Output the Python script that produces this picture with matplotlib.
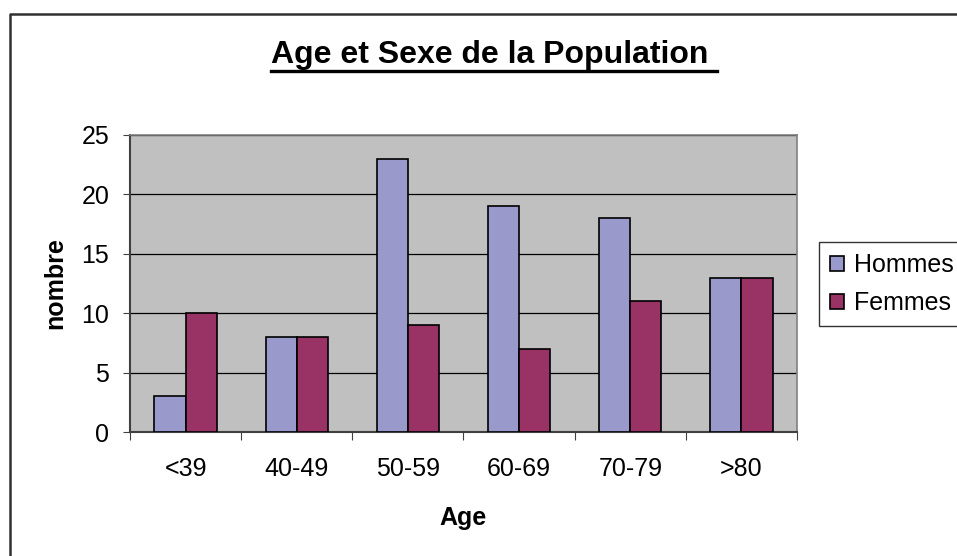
import matplotlib.pyplot as plt
import numpy as np
from matplotlib.lines import Line2D
from matplotlib.patches import Patch

plt.rcParams['font.family'] = ['Liberation Sans', 'DejaVu Sans']

# Données
categories = ['<39', '40-49', '50-59', '60-69', '70-79', '>80']
hommes = [3, 8, 23, 19, 18, 13]
femmes = [10, 8, 9, 7, 11, 13]

fig = plt.figure(figsize=(9.57, 5.56), dpi=100)
ax = fig.add_axes([130 / 957, 1 - 432 / 556, 667 / 957, 297 / 556])
ax.set_facecolor('#C0C0C0')

x = np.arange(len(categories))
w = 0.28
ax.bar(x - w / 2, hommes, w, color='#9999CC', edgecolor='black', linewidth=1.2, label='Hommes', zorder=3)
ax.bar(x + w / 2, femmes, w, color='#993366', edgecolor='black', linewidth=1.2, label='Femmes', zorder=3)

ax.set_xlim(-0.5, len(categories) - 0.5)
ax.set_ylim(0, 25)
ax.set_yticks(range(0, 26, 5))
ax.yaxis.grid(True, color='black', linewidth=0.9, zorder=0)

# ticks aux limites des catégories
ax.set_xticks(np.arange(-0.5, len(categories), 1))
ax.set_xticklabels([])
ax.set_xticks(x, minor=True)
ax.set_xticklabels(categories, minor=True, fontsize=18)
ax.tick_params(axis='x', which='minor', length=0, pad=18)
ax.tick_params(axis='x', which='major', length=6, color='#404040')
ax.tick_params(axis='y', labelsize=18, length=5, color='#404040', pad=10)

for s in ['left', 'bottom']:
    ax.spines[s].set_color('#404040')
    ax.spines[s].set_linewidth(1.5)
for s in ['top', 'right']:
    ax.spines[s].set_color('#808080')
    ax.spines[s].set_linewidth(1.2)

ax.set_ylabel('nombre', fontsize=18, fontweight='bold', labelpad=10)
ax.set_xlabel('Age', fontsize=18, fontweight='bold', labelpad=18)

# Titre souligné
title = fig.text(271 / 957, 1 - 63 / 556, 'Age et Sexe de la Population ', fontsize=23,
                 fontweight='bold', ha='left', va='baseline')
fig.canvas.draw()
bb = title.get_window_extent().transformed(fig.transFigure.inverted())
uy = 1 - 71 / 556
fig.add_artist(Line2D([bb.x0, bb.x1], [uy, uy], color='black', linewidth=2.4,
                      transform=fig.transFigure))

# Légende
handles = [Patch(facecolor='#9999CC', edgecolor='black', linewidth=1.2),
           Patch(facecolor='#993366', edgecolor='black', linewidth=1.2)]
leg = fig.legend(handles, ['Hommes', 'Femmes'], loc='upper left', bbox_to_anchor=(819 / 957, 1 - 242 / 556),
                 fontsize=18, frameon=True, fancybox=False, handlelength=0.55, handleheight=0.55,
                 handletextpad=0.4, borderpad=0.45, labelspacing=0.55, borderaxespad=0)
leg.get_frame().set_edgecolor('black')
leg.get_frame().set_linewidth(1.0)

# cadre du graphique
fig.add_artist(Line2D([10 / 957, 10 / 957, 1.0], [0, 1 - 14 / 556, 1 - 14 / 556], color='#303030',
                      linewidth=1.8, transform=fig.transFigure))

fig.savefig('out.png', dpi=100)
